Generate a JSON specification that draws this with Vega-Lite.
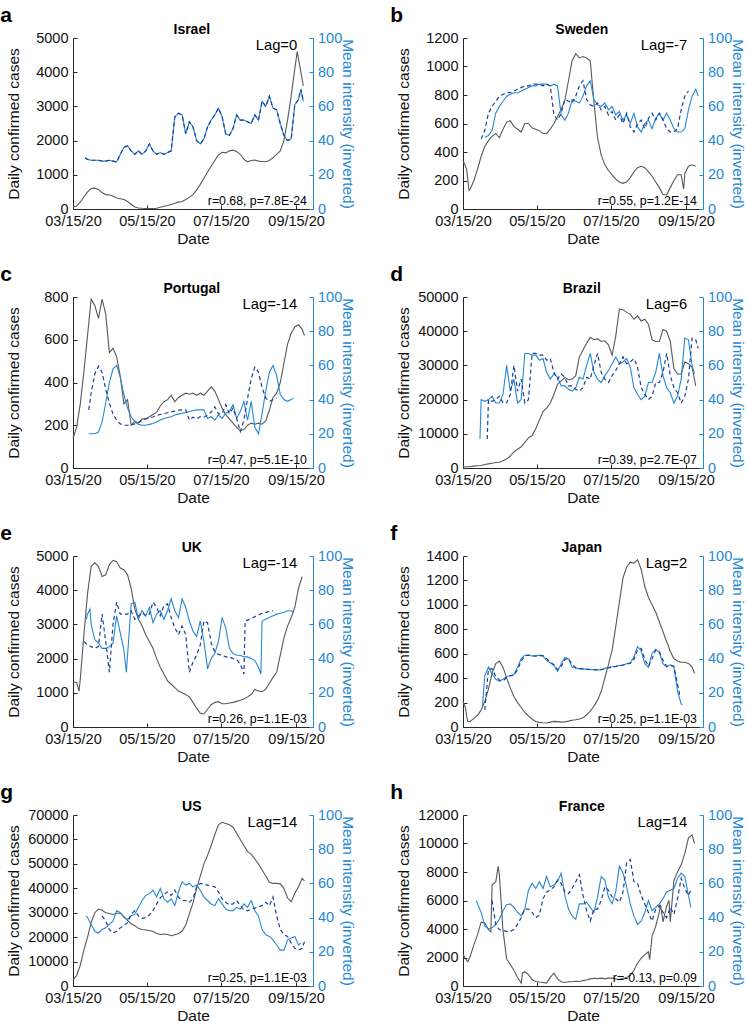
{
"$schema": "https://vega.github.io/schema/vega-lite/v6.json",
"padding": {"left": 0, "top": 3, "right": 0, "bottom": 0},
"data": {"values": [
{"p":"a","n":"Israel","g":"Lag=0","r":"r=0.68, p=7.8E-24"},
{"p":"b","n":"Sweden","g":"Lag=-7","r":"r=0.55, p=1.2E-14"},
{"p":"c","n":"Portugal","g":"Lag=-14","r":"r=0.47, p=5.1E-10"},
{"p":"d","n":"Brazil","g":"Lag=6","r":"r=0.39, p=2.7E-07"},
{"p":"e","n":"UK","g":"Lag=-14","r":"r=0.26, p=1.1E-03"},
{"p":"f","n":"Japan","g":"Lag=2","r":"r=0.25, p=1.1E-03"},
{"p":"g","n":"US","g":"Lag=14","r":"r=0.25, p=1.1E-03"},
{"p":"h","n":"France","g":"Lag=14","r":"r=-0.13, p=0.09"},
{"p":"a","d":"2020-03-15","c":60},
{"p":"a","d":"2020-03-18","c":90},
{"p":"a","d":"2020-03-21","c":200},
{"p":"a","d":"2020-03-24","c":350},
{"p":"a","d":"2020-03-25","s":30,"l":30},
{"p":"a","d":"2020-03-27","c":500,"s":29,"l":29},
{"p":"a","d":"2020-03-30","c":600,"s":28.5,"l":28.5},
{"p":"a","d":"2020-04-02","c":610,"s":28.5,"l":28.5},
{"p":"a","d":"2020-04-05","c":570,"s":28.5,"l":28.5},
{"p":"a","d":"2020-04-08","c":480,"s":28,"l":28},
{"p":"a","d":"2020-04-11","c":420,"s":28,"l":28},
{"p":"a","d":"2020-04-14","c":410,"s":28.5,"l":28.5},
{"p":"a","d":"2020-04-17","c":380,"s":28,"l":28},
{"p":"a","d":"2020-04-20","c":320,"s":27.5,"l":27.5},
{"p":"a","d":"2020-04-23","c":300,"s":32,"l":32},
{"p":"a","d":"2020-04-26","c":280,"s":36,"l":36},
{"p":"a","d":"2020-04-29","c":220,"s":37,"l":37},
{"p":"a","d":"2020-05-02","c":140,"s":34,"l":34},
{"p":"a","d":"2020-05-05","c":60,"s":32,"l":32},
{"p":"a","d":"2020-05-08","c":30,"s":34,"l":34},
{"p":"a","d":"2020-05-11","c":20,"s":32,"l":32},
{"p":"a","d":"2020-05-14","c":15,"s":34,"l":34},
{"p":"a","d":"2020-05-17","c":15,"s":38,"l":38},
{"p":"a","d":"2020-05-20","c":12,"s":34,"l":34},
{"p":"a","d":"2020-05-23","c":20,"s":32,"l":32},
{"p":"a","d":"2020-05-26","c":50,"s":33,"l":33},
{"p":"a","d":"2020-05-29","c":80,"s":32,"l":32},
{"p":"a","d":"2020-06-01","c":100,"s":33,"l":33},
{"p":"a","d":"2020-06-04","c":130,"s":34,"l":34},
{"p":"a","d":"2020-06-07","c":170,"s":54,"l":54},
{"p":"a","d":"2020-06-10","c":200,"s":56,"l":56},
{"p":"a","d":"2020-06-13","c":220,"s":55,"l":55},
{"p":"a","d":"2020-06-16","c":280,"s":44,"l":44},
{"p":"a","d":"2020-06-19","c":340,"s":51,"l":51},
{"p":"a","d":"2020-06-22","c":420,"s":48,"l":48},
{"p":"a","d":"2020-06-25","c":560,"s":40,"l":40},
{"p":"a","d":"2020-06-28","c":720,"s":38,"l":38},
{"p":"a","d":"2020-07-01","c":900,"s":41,"l":41},
{"p":"a","d":"2020-07-04","c":1080,"s":48,"l":48},
{"p":"a","d":"2020-07-07","c":1250,"s":52,"l":52},
{"p":"a","d":"2020-07-10","c":1420,"s":55,"l":55},
{"p":"a","d":"2020-07-13","c":1580,"s":59,"l":59},
{"p":"a","d":"2020-07-16","c":1660,"s":54,"l":54},
{"p":"a","d":"2020-07-19","c":1640,"s":44,"l":44},
{"p":"a","d":"2020-07-22","c":1700,"s":43,"l":43},
{"p":"a","d":"2020-07-25","c":1720,"s":47,"l":47},
{"p":"a","d":"2020-07-28","c":1680,"s":55,"l":55},
{"p":"a","d":"2020-07-31","c":1600,"s":52,"l":52},
{"p":"a","d":"2020-08-03","c":1450,"s":52,"l":52},
{"p":"a","d":"2020-08-06","c":1380,"s":51,"l":51},
{"p":"a","d":"2020-08-09","c":1420,"s":50,"l":50},
{"p":"a","d":"2020-08-12","c":1430,"s":55,"l":55},
{"p":"a","d":"2020-08-15","c":1400,"s":52,"l":52},
{"p":"a","d":"2020-08-18","c":1390,"s":63,"l":63},
{"p":"a","d":"2020-08-21","c":1380,"s":60,"l":60},
{"p":"a","d":"2020-08-24","c":1420,"s":66,"l":66},
{"p":"a","d":"2020-08-27","c":1500,"s":59,"l":59},
{"p":"a","d":"2020-08-30","c":1600,"s":58,"l":58},
{"p":"a","d":"2020-09-02","c":1700,"s":50,"l":50},
{"p":"a","d":"2020-09-05","c":2000,"s":43,"l":43},
{"p":"a","d":"2020-09-08","c":2600,"s":40,"l":40},
{"p":"a","d":"2020-09-11","c":3300,"s":41,"l":41},
{"p":"a","d":"2020-09-14","c":4100,"s":61,"l":61},
{"p":"a","d":"2020-09-16","c":4600},
{"p":"a","d":"2020-09-17","s":64,"l":64},
{"p":"a","d":"2020-09-19","c":4000,"s":70,"l":70},
{"p":"a","d":"2020-09-21","c":3600,"s":63,"l":63},
{"p":"b","d":"2020-03-15","c":340},
{"p":"b","d":"2020-03-18","c":280},
{"p":"b","d":"2020-03-20","c":130},
{"p":"b","d":"2020-03-21","c":140},
{"p":"b","d":"2020-03-24","c":200},
{"p":"b","d":"2020-03-27","c":280},
{"p":"b","d":"2020-03-30","c":370,"l":41},
{"p":"b","d":"2020-04-02","c":440,"s":42,"l":46},
{"p":"b","d":"2020-04-05","c":480,"s":43,"l":56},
{"p":"b","d":"2020-04-08","c":510,"s":46,"l":60},
{"p":"b","d":"2020-04-11","c":530,"s":56,"l":63},
{"p":"b","d":"2020-04-14","c":500,"s":60,"l":66},
{"p":"b","d":"2020-04-17","c":560,"s":63,"l":67},
{"p":"b","d":"2020-04-20","c":610,"s":66,"l":68},
{"p":"b","d":"2020-04-23","c":620,"s":67,"l":68},
{"p":"b","d":"2020-04-26","c":580,"s":68,"l":69},
{"p":"b","d":"2020-04-29","c":560,"s":68,"l":70},
{"p":"b","d":"2020-05-02","c":540,"s":69,"l":71},
{"p":"b","d":"2020-05-05","c":600,"s":70,"l":72},
{"p":"b","d":"2020-05-08","c":600,"s":71,"l":72},
{"p":"b","d":"2020-05-11","c":570,"s":72,"l":73},
{"p":"b","d":"2020-05-14","c":560,"s":72,"l":73},
{"p":"b","d":"2020-05-17","c":550,"s":73,"l":73},
{"p":"b","d":"2020-05-20","c":530,"s":73,"l":72},
{"p":"b","d":"2020-05-23","c":530,"s":73,"l":73},
{"p":"b","d":"2020-05-26","c":560,"s":72,"l":72},
{"p":"b","d":"2020-05-29","c":600,"s":73,"l":55},
{"p":"b","d":"2020-06-01","c":650,"s":72,"l":52},
{"p":"b","d":"2020-06-04","c":700,"s":55,"l":56},
{"p":"b","d":"2020-06-07","c":760,"s":52,"l":64},
{"p":"b","d":"2020-06-10","c":900,"s":56,"l":63},
{"p":"b","d":"2020-06-13","c":1040,"s":64,"l":62},
{"p":"b","d":"2020-06-16","c":1090,"s":63,"l":66},
{"p":"b","d":"2020-06-19","c":1060,"s":62,"l":72},
{"p":"b","d":"2020-06-22","c":1070,"s":66,"l":75},
{"p":"b","d":"2020-06-25","c":1060,"s":72,"l":64},
{"p":"b","d":"2020-06-28","c":1040,"s":75,"l":61},
{"p":"b","d":"2020-07-01","c":750,"s":64,"l":60},
{"p":"b","d":"2020-07-04","c":500,"s":61,"l":62},
{"p":"b","d":"2020-07-07","c":380,"s":60,"l":58},
{"p":"b","d":"2020-07-10","c":310,"s":62,"l":60},
{"p":"b","d":"2020-07-13","c":270,"s":58,"l":55},
{"p":"b","d":"2020-07-16","c":240,"s":60,"l":57},
{"p":"b","d":"2020-07-19","c":210,"s":55,"l":52},
{"p":"b","d":"2020-07-22","c":190,"s":57,"l":55},
{"p":"b","d":"2020-07-25","c":180,"s":52,"l":50},
{"p":"b","d":"2020-07-28","c":190,"s":55,"l":56},
{"p":"b","d":"2020-07-31","c":220,"s":50,"l":48},
{"p":"b","d":"2020-08-03","c":260,"s":56,"l":45},
{"p":"b","d":"2020-08-06","c":290,"s":48,"l":50},
{"p":"b","d":"2020-08-09","c":300,"s":45,"l":52},
{"p":"b","d":"2020-08-12","c":290,"s":50,"l":47},
{"p":"b","d":"2020-08-15","c":260,"s":52,"l":53},
{"p":"b","d":"2020-08-18","c":230,"s":47,"l":56},
{"p":"b","d":"2020-08-21","c":190,"s":53,"l":52},
{"p":"b","d":"2020-08-24","c":150,"s":56,"l":56},
{"p":"b","d":"2020-08-27","c":100,"s":52,"l":52},
{"p":"b","d":"2020-08-30","c":100,"s":56,"l":47},
{"p":"b","d":"2020-09-02","c":150,"s":52,"l":45},
{"p":"b","d":"2020-09-05","c":200,"s":47,"l":45},
{"p":"b","d":"2020-09-08","c":240,"s":45,"l":47},
{"p":"b","d":"2020-09-11","c":240,"s":45,"l":58},
{"p":"b","d":"2020-09-13","c":140},
{"p":"b","d":"2020-09-14","c":250,"s":47,"l":66},
{"p":"b","d":"2020-09-17","c":300,"s":58,"l":69},
{"p":"b","d":"2020-09-20","c":310,"s":66},
{"p":"b","d":"2020-09-23","c":300,"s":70},
{"p":"b","d":"2020-09-25","s":66},
{"p":"c","d":"2020-03-15","c":140},
{"p":"c","d":"2020-03-18","c":190},
{"p":"c","d":"2020-03-21","c":300},
{"p":"c","d":"2020-03-24","c":450},
{"p":"c","d":"2020-03-27","c":620},
{"p":"c","d":"2020-03-28","s":20,"l":34},
{"p":"c","d":"2020-03-30","c":790,"s":20,"l":44},
{"p":"c","d":"2020-04-02","c":760,"s":20,"l":55},
{"p":"c","d":"2020-04-05","c":700,"s":21,"l":59.5},
{"p":"c","d":"2020-04-08","c":790,"s":27,"l":56},
{"p":"c","d":"2020-04-11","c":720,"s":38,"l":46},
{"p":"c","d":"2020-04-14","c":540,"s":50,"l":38},
{"p":"c","d":"2020-04-17","c":560,"s":58,"l":31.5},
{"p":"c","d":"2020-04-20","c":520,"s":60,"l":28},
{"p":"c","d":"2020-04-23","c":430,"s":53,"l":25.8},
{"p":"c","d":"2020-04-26","c":300,"s":43,"l":25},
{"p":"c","d":"2020-04-29","c":320,"s":35,"l":25},
{"p":"c","d":"2020-05-02","c":200,"s":30,"l":25.3},
{"p":"c","d":"2020-05-05","c":220,"s":27,"l":25.8},
{"p":"c","d":"2020-05-08","c":210,"s":25.5,"l":26.7},
{"p":"c","d":"2020-05-11","c":230,"s":25,"l":27.7},
{"p":"c","d":"2020-05-14","c":230,"s":25,"l":28.7},
{"p":"c","d":"2020-05-17","c":240,"s":25.5,"l":29.3},
{"p":"c","d":"2020-05-20","c":250,"s":26,"l":29.8},
{"p":"c","d":"2020-05-23","c":260,"s":27,"l":30.7},
{"p":"c","d":"2020-05-26","c":290,"s":28,"l":31.3},
{"p":"c","d":"2020-05-29","c":310,"s":29,"l":31.8},
{"p":"c","d":"2020-06-01","c":320,"s":29.5,"l":32.3},
{"p":"c","d":"2020-06-04","c":340,"s":30,"l":32.8},
{"p":"c","d":"2020-06-07","c":310,"s":31,"l":33.3},
{"p":"c","d":"2020-06-10","c":330,"s":31.5,"l":33.8},
{"p":"c","d":"2020-06-13","c":340,"s":32,"l":34},
{"p":"c","d":"2020-06-16","c":350,"s":32.5,"l":34},
{"p":"c","d":"2020-06-19","c":345,"s":33,"l":28},
{"p":"c","d":"2020-06-22","c":350,"s":33.5,"l":29.7},
{"p":"c","d":"2020-06-25","c":340,"s":34,"l":28.7},
{"p":"c","d":"2020-06-28","c":350,"s":34,"l":30},
{"p":"c","d":"2020-07-01","c":340,"s":34,"l":29.7},
{"p":"c","d":"2020-07-04","c":360,"s":29,"l":31},
{"p":"c","d":"2020-07-07","c":380,"s":30,"l":32.7},
{"p":"c","d":"2020-07-10","c":360,"s":28,"l":35.7},
{"p":"c","d":"2020-07-13","c":320,"s":31,"l":31.7},
{"p":"c","d":"2020-07-16","c":280,"s":29,"l":31.7},
{"p":"c","d":"2020-07-19","c":250,"s":32,"l":37},
{"p":"c","d":"2020-07-22","c":230,"s":33,"l":31.7},
{"p":"c","d":"2020-07-25","c":210,"s":37,"l":35},
{"p":"c","d":"2020-07-28","c":190,"s":29,"l":29},
{"p":"c","d":"2020-07-31","c":175,"s":33,"l":21.3},
{"p":"c","d":"2020-08-03","c":180,"s":39,"l":28},
{"p":"c","d":"2020-08-06","c":200,"s":28,"l":40.7},
{"p":"c","d":"2020-08-09","c":210,"s":39,"l":52},
{"p":"c","d":"2020-08-12","c":205,"s":24,"l":59},
{"p":"c","d":"2020-08-15","c":210,"s":20,"l":56},
{"p":"c","d":"2020-08-18","c":205,"s":32,"l":47},
{"p":"c","d":"2020-08-21","c":220,"s":45,"l":41},
{"p":"c","d":"2020-08-24","c":270,"s":56,"l":39},
{"p":"c","d":"2020-08-27","c":330,"s":60,"l":40},
{"p":"c","d":"2020-08-30","c":350,"s":54,"l":41},
{"p":"c","d":"2020-09-02","c":400,"s":43},
{"p":"c","d":"2020-09-05","c":490,"s":40},
{"p":"c","d":"2020-09-08","c":580,"s":39},
{"p":"c","d":"2020-09-11","c":630,"s":40},
{"p":"c","d":"2020-09-13","s":41},
{"p":"c","d":"2020-09-14","c":660},
{"p":"c","d":"2020-09-17","c":670},
{"p":"c","d":"2020-09-20","c":650},
{"p":"c","d":"2020-09-22","c":620},
{"p":"d","d":"2020-03-15","c":300},
{"p":"d","d":"2020-03-18","c":350},
{"p":"d","d":"2020-03-21","c":400},
{"p":"d","d":"2020-03-24","c":550},
{"p":"d","d":"2020-03-27","c":650},
{"p":"d","d":"2020-03-29","s":17},
{"p":"d","d":"2020-03-30","c":750,"s":40},
{"p":"d","d":"2020-04-02","c":1000,"s":39},
{"p":"d","d":"2020-04-04","l":17},
{"p":"d","d":"2020-04-05","c":1200,"s":40,"l":40},
{"p":"d","d":"2020-04-08","c":1400,"s":42,"l":39},
{"p":"d","d":"2020-04-11","c":1600,"s":38,"l":40},
{"p":"d","d":"2020-04-14","c":1700,"s":38,"l":42},
{"p":"d","d":"2020-04-17","c":2100,"s":43,"l":38},
{"p":"d","d":"2020-04-20","c":2600,"s":60,"l":38},
{"p":"d","d":"2020-04-23","c":3500,"s":45,"l":43},
{"p":"d","d":"2020-04-26","c":4700,"s":52,"l":60},
{"p":"d","d":"2020-04-29","c":5500,"s":38,"l":45},
{"p":"d","d":"2020-05-02","c":6200,"s":40,"l":52},
{"p":"d","d":"2020-05-05","c":7500,"s":67,"l":38},
{"p":"d","d":"2020-05-08","c":8800,"s":67,"l":40},
{"p":"d","d":"2020-05-11","c":9500,"s":66,"l":67},
{"p":"d","d":"2020-05-14","c":11500,"s":66,"l":67},
{"p":"d","d":"2020-05-17","c":14000,"s":63,"l":66},
{"p":"d","d":"2020-05-20","c":16500,"s":64,"l":66},
{"p":"d","d":"2020-05-23","c":17500,"s":56,"l":63},
{"p":"d","d":"2020-05-26","c":19000,"s":52,"l":64},
{"p":"d","d":"2020-05-29","c":21500,"s":55,"l":56},
{"p":"d","d":"2020-06-01","c":24500,"s":53,"l":52},
{"p":"d","d":"2020-06-04","c":25500,"s":48,"l":55},
{"p":"d","d":"2020-06-07","c":26500,"s":48,"l":53},
{"p":"d","d":"2020-06-10","c":25800,"s":46,"l":48},
{"p":"d","d":"2020-06-13","c":26000,"s":45,"l":48},
{"p":"d","d":"2020-06-16","c":27000,"s":47,"l":46},
{"p":"d","d":"2020-06-19","c":32500,"s":53,"l":45},
{"p":"d","d":"2020-06-22","c":34500,"s":52,"l":47},
{"p":"d","d":"2020-06-25","c":36500,"s":60,"l":53},
{"p":"d","d":"2020-06-28","c":38200,"s":67,"l":52},
{"p":"d","d":"2020-07-01","c":37500,"s":56,"l":60},
{"p":"d","d":"2020-07-04","c":37800,"s":52,"l":67},
{"p":"d","d":"2020-07-07","c":37000,"s":50,"l":56},
{"p":"d","d":"2020-07-10","c":37200,"s":54,"l":52},
{"p":"d","d":"2020-07-13","c":36000,"s":57,"l":50},
{"p":"d","d":"2020-07-16","c":33000,"s":61,"l":54},
{"p":"d","d":"2020-07-19","c":38500,"s":65,"l":57},
{"p":"d","d":"2020-07-22","c":46500,"s":61,"l":61},
{"p":"d","d":"2020-07-25","c":46300,"s":62,"l":65},
{"p":"d","d":"2020-07-28","c":45500,"s":64,"l":61},
{"p":"d","d":"2020-07-31","c":45000,"s":59,"l":62},
{"p":"d","d":"2020-08-03","c":43500,"s":47,"l":64},
{"p":"d","d":"2020-08-06","c":44500,"s":43,"l":59},
{"p":"d","d":"2020-08-09","c":43000,"s":40,"l":47},
{"p":"d","d":"2020-08-12","c":43500,"s":42,"l":43},
{"p":"d","d":"2020-08-15","c":42000,"s":50,"l":40},
{"p":"d","d":"2020-08-18","c":37500,"s":50,"l":42},
{"p":"d","d":"2020-08-21","c":37000,"s":56,"l":50},
{"p":"d","d":"2020-08-24","c":37000,"s":67,"l":50},
{"p":"d","d":"2020-08-27","c":40500,"s":54,"l":56},
{"p":"d","d":"2020-08-30","c":40000,"s":47,"l":67},
{"p":"d","d":"2020-09-02","c":37000,"s":44,"l":54},
{"p":"d","d":"2020-09-05","c":29000,"s":38,"l":47},
{"p":"d","d":"2020-09-08","c":27500,"s":42,"l":44},
{"p":"d","d":"2020-09-11","c":27500,"s":52,"l":38},
{"p":"d","d":"2020-09-14","c":31000,"s":76,"l":42},
{"p":"d","d":"2020-09-17","c":30500,"s":75,"l":52},
{"p":"d","d":"2020-09-20","c":29500,"s":60,"l":76},
{"p":"d","d":"2020-09-22","s":55},
{"p":"d","d":"2020-09-23","c":24000,"l":75},
{"p":"d","d":"2020-09-25","l":70},
{"p":"e","d":"2020-03-15","c":1320},
{"p":"e","d":"2020-03-18","c":1300},
{"p":"e","d":"2020-03-20","c":1050},
{"p":"e","d":"2020-03-21","c":1400},
{"p":"e","d":"2020-03-24","c":2700,"l":50},
{"p":"e","d":"2020-03-26","s":63},
{"p":"e","d":"2020-03-27","c":3900,"s":66,"l":48},
{"p":"e","d":"2020-03-29","s":69},
{"p":"e","d":"2020-03-30","c":4700,"s":60,"l":47},
{"p":"e","d":"2020-04-02","c":4800,"s":51,"l":46},
{"p":"e","d":"2020-04-05","c":4700,"s":49,"l":47},
{"p":"e","d":"2020-04-08","c":4400,"s":46,"l":66},
{"p":"e","d":"2020-04-11","c":4450,"s":46,"l":50},
{"p":"e","d":"2020-04-14","c":4750,"s":47,"l":32},
{"p":"e","d":"2020-04-17","c":4870,"s":49,"l":60},
{"p":"e","d":"2020-04-20","c":4830,"s":65,"l":73},
{"p":"e","d":"2020-04-23","c":4650,"s":55,"l":66},
{"p":"e","d":"2020-04-26","c":4600,"s":45,"l":66},
{"p":"e","d":"2020-04-28","s":32},
{"p":"e","d":"2020-04-29","c":4450,"s":42,"l":66},
{"p":"e","d":"2020-05-02","c":4050,"s":72,"l":68},
{"p":"e","d":"2020-05-05","c":3450,"s":73,"l":63},
{"p":"e","d":"2020-05-08","c":3150,"s":63,"l":65},
{"p":"e","d":"2020-05-11","c":2950,"s":68,"l":67},
{"p":"e","d":"2020-05-14","c":2700,"s":65,"l":65},
{"p":"e","d":"2020-05-17","c":2500,"s":70,"l":66},
{"p":"e","d":"2020-05-20","c":2300,"s":61,"l":73},
{"p":"e","d":"2020-05-23","c":2000,"s":66,"l":70},
{"p":"e","d":"2020-05-26","c":1750,"s":68,"l":65},
{"p":"e","d":"2020-05-29","c":1550,"s":63,"l":71},
{"p":"e","d":"2020-06-01","c":1350,"s":68,"l":72},
{"p":"e","d":"2020-06-04","c":1250,"s":75,"l":64},
{"p":"e","d":"2020-06-07","c":1150,"s":68,"l":58},
{"p":"e","d":"2020-06-10","c":1050,"s":64,"l":54},
{"p":"e","d":"2020-06-13","c":1000,"s":75,"l":59},
{"p":"e","d":"2020-06-16","c":950,"s":70,"l":54},
{"p":"e","d":"2020-06-19","c":880,"s":62,"l":32},
{"p":"e","d":"2020-06-22","c":720,"s":56,"l":38},
{"p":"e","d":"2020-06-25","c":550,"s":53,"l":42},
{"p":"e","d":"2020-06-28","c":400,"s":62,"l":48},
{"p":"e","d":"2020-07-01","c":380,"s":50,"l":62},
{"p":"e","d":"2020-07-04","c":520,"s":34,"l":61},
{"p":"e","d":"2020-07-07","c":650,"s":40,"l":49},
{"p":"e","d":"2020-07-10","c":720,"s":43,"l":44},
{"p":"e","d":"2020-07-13","c":740,"s":50,"l":42.5},
{"p":"e","d":"2020-07-16","c":680,"s":64,"l":42},
{"p":"e","d":"2020-07-19","c":680,"s":58,"l":41},
{"p":"e","d":"2020-07-22","c":700,"s":46,"l":41},
{"p":"e","d":"2020-07-25","c":720,"s":43,"l":40},
{"p":"e","d":"2020-07-28","c":750,"s":42,"l":39.5},
{"p":"e","d":"2020-07-31","c":780,"s":42,"l":37},
{"p":"e","d":"2020-08-03","c":820,"s":41,"l":31},
{"p":"e","d":"2020-08-04","l":62},
{"p":"e","d":"2020-08-06","c":880,"s":41,"l":62.5},
{"p":"e","d":"2020-08-09","c":950,"s":40,"l":63.5},
{"p":"e","d":"2020-08-12","c":1100,"s":39,"l":64.5},
{"p":"e","d":"2020-08-15","c":1050,"s":35,"l":65.5},
{"p":"e","d":"2020-08-17","s":31},
{"p":"e","d":"2020-08-18","c":1030,"s":62,"l":66.5},
{"p":"e","d":"2020-08-21","c":1100,"s":63,"l":67},
{"p":"e","d":"2020-08-24","c":1280,"s":64,"l":67.5},
{"p":"e","d":"2020-08-27","c":1450,"s":65,"l":68},
{"p":"e","d":"2020-08-30","c":1600,"s":66},
{"p":"e","d":"2020-09-02","c":2100,"s":66.5},
{"p":"e","d":"2020-09-05","c":2600,"s":67},
{"p":"e","d":"2020-09-08","c":2950,"s":68},
{"p":"e","d":"2020-09-11","c":3200,"s":68},
{"p":"e","d":"2020-09-13","s":67},
{"p":"e","d":"2020-09-14","c":3500},
{"p":"e","d":"2020-09-17","c":4050},
{"p":"e","d":"2020-09-20","c":4400},
{"p":"f","d":"2020-03-15","c":210},
{"p":"f","d":"2020-03-17","c":160},
{"p":"f","d":"2020-03-18","c":90},
{"p":"f","d":"2020-03-19","c":45},
{"p":"f","d":"2020-03-21","c":45},
{"p":"f","d":"2020-03-24","c":70},
{"p":"f","d":"2020-03-27","c":95},
{"p":"f","d":"2020-03-30","c":140},
{"p":"f","d":"2020-03-31","s":12},
{"p":"f","d":"2020-04-02","c":210,"s":30,"l":10},
{"p":"f","d":"2020-04-05","c":310,"s":35,"l":34},
{"p":"f","d":"2020-04-08","c":440,"s":31,"l":34},
{"p":"f","d":"2020-04-11","c":520,"s":28,"l":29.5},
{"p":"f","d":"2020-04-14","c":540,"s":26.7,"l":27.5},
{"p":"f","d":"2020-04-17","c":490,"s":28,"l":27},
{"p":"f","d":"2020-04-20","c":400,"s":29.5,"l":29},
{"p":"f","d":"2020-04-23","c":320,"s":30,"l":30},
{"p":"f","d":"2020-04-26","c":250,"s":30.5,"l":30.3},
{"p":"f","d":"2020-04-29","c":200,"s":35,"l":33.5},
{"p":"f","d":"2020-05-02","c":160,"s":40,"l":38.5},
{"p":"f","d":"2020-05-05","c":120,"s":42,"l":41.5},
{"p":"f","d":"2020-05-08","c":90,"s":42,"l":42},
{"p":"f","d":"2020-05-11","c":65,"s":41.5,"l":41.7},
{"p":"f","d":"2020-05-14","c":45,"s":41.5,"l":41.5},
{"p":"f","d":"2020-05-17","c":38,"s":42,"l":41.8},
{"p":"f","d":"2020-05-20","c":35,"s":41.5,"l":41.7},
{"p":"f","d":"2020-05-23","c":33,"s":39,"l":40},
{"p":"f","d":"2020-05-26","c":40,"s":37.5,"l":38},
{"p":"f","d":"2020-05-29","c":46,"s":36,"l":36.5},
{"p":"f","d":"2020-06-01","c":44,"s":32.5,"l":33.5},
{"p":"f","d":"2020-06-04","c":40,"s":37,"l":35.5},
{"p":"f","d":"2020-06-07","c":42,"s":40.5,"l":39.5},
{"p":"f","d":"2020-06-10","c":48,"s":40,"l":40.2},
{"p":"f","d":"2020-06-13","c":55,"s":35,"l":36.5},
{"p":"f","d":"2020-06-16","c":60,"s":34.5,"l":34.7},
{"p":"f","d":"2020-06-19","c":66,"s":34,"l":34.2},
{"p":"f","d":"2020-06-22","c":75,"s":34,"l":34},
{"p":"f","d":"2020-06-25","c":100,"s":33.7,"l":33.8},
{"p":"f","d":"2020-06-28","c":130,"s":33.6,"l":33.6},
{"p":"f","d":"2020-07-01","c":170,"s":33.5,"l":33.5},
{"p":"f","d":"2020-07-04","c":220,"s":33.4,"l":33.4},
{"p":"f","d":"2020-07-07","c":290,"s":33.5,"l":33.5},
{"p":"f","d":"2020-07-10","c":400,"s":34.3,"l":34},
{"p":"f","d":"2020-07-13","c":510,"s":34.8,"l":34.6},
{"p":"f","d":"2020-07-16","c":630,"s":35.2,"l":35},
{"p":"f","d":"2020-07-19","c":820,"s":35.5,"l":35.4},
{"p":"f","d":"2020-07-22","c":1020,"s":36,"l":35.8},
{"p":"f","d":"2020-07-25","c":1220,"s":36.3,"l":36.2},
{"p":"f","d":"2020-07-28","c":1310,"s":37,"l":36.7},
{"p":"f","d":"2020-07-31","c":1350,"s":37.5,"l":37.3},
{"p":"f","d":"2020-08-03","c":1340,"s":41,"l":39.5},
{"p":"f","d":"2020-08-06","c":1370,"s":47,"l":45},
{"p":"f","d":"2020-08-09","c":1290,"s":44.5,"l":46},
{"p":"f","d":"2020-08-12","c":1150,"s":37,"l":39.5},
{"p":"f","d":"2020-08-15","c":1060,"s":35,"l":35.5},
{"p":"f","d":"2020-08-18","c":1000,"s":43,"l":40},
{"p":"f","d":"2020-08-21","c":940,"s":45.5,"l":45},
{"p":"f","d":"2020-08-24","c":860,"s":43.5,"l":44},
{"p":"f","d":"2020-08-27","c":780,"s":37,"l":39},
{"p":"f","d":"2020-08-30","c":700,"s":35,"l":35.5},
{"p":"f","d":"2020-09-02","c":620,"s":36.5,"l":36},
{"p":"f","d":"2020-09-05","c":560,"s":35,"l":35.5},
{"p":"f","d":"2020-09-08","c":540,"s":21,"l":25},
{"p":"f","d":"2020-09-10","l":18},
{"p":"f","d":"2020-09-11","c":530,"s":13.5},
{"p":"f","d":"2020-09-12","s":13},
{"p":"f","d":"2020-09-14","c":530},
{"p":"f","d":"2020-09-17","c":520},
{"p":"f","d":"2020-09-20","c":490},
{"p":"f","d":"2020-09-22","c":440},
{"p":"g","d":"2020-03-15","c":2500},
{"p":"g","d":"2020-03-18","c":4300},
{"p":"g","d":"2020-03-21","c":8500},
{"p":"g","d":"2020-03-24","c":14800},
{"p":"g","d":"2020-03-26","s":41},
{"p":"g","d":"2020-03-27","c":20000,"s":40},
{"p":"g","d":"2020-03-30","c":26000,"s":36},
{"p":"g","d":"2020-04-02","c":30000,"s":32},
{"p":"g","d":"2020-04-05","c":31500,"s":31},
{"p":"g","d":"2020-04-08","c":31000,"s":33,"l":41},
{"p":"g","d":"2020-04-11","c":30000,"s":34,"l":38},
{"p":"g","d":"2020-04-14","c":29700,"s":36,"l":33},
{"p":"g","d":"2020-04-17","c":29300,"s":38,"l":31},
{"p":"g","d":"2020-04-20","c":29800,"s":44,"l":32},
{"p":"g","d":"2020-04-23","c":29800,"s":43,"l":34},
{"p":"g","d":"2020-04-26","c":28400,"s":40,"l":35.5},
{"p":"g","d":"2020-04-29","c":26800,"s":39,"l":37},
{"p":"g","d":"2020-05-02","c":25500,"s":41,"l":42},
{"p":"g","d":"2020-05-05","c":24700,"s":42,"l":44},
{"p":"g","d":"2020-05-08","c":23600,"s":46,"l":41},
{"p":"g","d":"2020-05-11","c":23100,"s":50,"l":39.5},
{"p":"g","d":"2020-05-14","c":22900,"s":53,"l":40},
{"p":"g","d":"2020-05-17","c":22700,"s":54,"l":41.5},
{"p":"g","d":"2020-05-20","c":22300,"s":56,"l":44},
{"p":"g","d":"2020-05-23","c":21500,"s":52,"l":48},
{"p":"g","d":"2020-05-26","c":21100,"s":57,"l":51.5},
{"p":"g","d":"2020-05-29","c":21300,"s":51,"l":53.5},
{"p":"g","d":"2020-06-01","c":21100,"s":49,"l":55},
{"p":"g","d":"2020-06-04","c":20600,"s":51,"l":53},
{"p":"g","d":"2020-06-07","c":21000,"s":47,"l":56},
{"p":"g","d":"2020-06-10","c":21400,"s":55,"l":52},
{"p":"g","d":"2020-06-13","c":22500,"s":61,"l":50},
{"p":"g","d":"2020-06-16","c":25000,"s":59,"l":50},
{"p":"g","d":"2020-06-19","c":29500,"s":60,"l":49},
{"p":"g","d":"2020-06-22","c":34000,"s":58,"l":51},
{"p":"g","d":"2020-06-25","c":40000,"s":59,"l":58},
{"p":"g","d":"2020-06-28","c":45000,"s":56,"l":60},
{"p":"g","d":"2020-07-01","c":50000,"s":52,"l":59.5},
{"p":"g","d":"2020-07-04","c":53500,"s":50,"l":59},
{"p":"g","d":"2020-07-07","c":57500,"s":48,"l":58.5},
{"p":"g","d":"2020-07-10","c":62000,"s":47,"l":58},
{"p":"g","d":"2020-07-13","c":66000,"s":51,"l":55},
{"p":"g","d":"2020-07-16","c":67000,"s":48,"l":51},
{"p":"g","d":"2020-07-19","c":66500,"s":45,"l":49},
{"p":"g","d":"2020-07-22","c":66000,"s":44,"l":47.5},
{"p":"g","d":"2020-07-25","c":65000,"s":44,"l":48},
{"p":"g","d":"2020-07-28","c":62500,"s":46,"l":50},
{"p":"g","d":"2020-07-31","c":60000,"s":45,"l":47},
{"p":"g","d":"2020-08-03","c":57500,"s":48,"l":44.5},
{"p":"g","d":"2020-08-06","c":55000,"s":46,"l":44},
{"p":"g","d":"2020-08-09","c":54000,"s":50,"l":45},
{"p":"g","d":"2020-08-12","c":52000,"s":44,"l":45.5},
{"p":"g","d":"2020-08-15","c":50000,"s":41,"l":46.5},
{"p":"g","d":"2020-08-18","c":47500,"s":33,"l":47},
{"p":"g","d":"2020-08-21","c":45000,"s":30,"l":49},
{"p":"g","d":"2020-08-24","c":42500,"s":29,"l":47},
{"p":"g","d":"2020-08-27","c":42000,"s":27,"l":52},
{"p":"g","d":"2020-08-30","c":42000,"s":24,"l":41},
{"p":"g","d":"2020-09-02","c":41800,"s":21,"l":33},
{"p":"g","d":"2020-09-05","c":40000,"s":21,"l":30},
{"p":"g","d":"2020-09-08","c":36000,"s":27,"l":29},
{"p":"g","d":"2020-09-11","c":34500,"s":28,"l":25},
{"p":"g","d":"2020-09-14","c":38000,"s":29,"l":22},
{"p":"g","d":"2020-09-17","c":40500,"s":24,"l":21},
{"p":"g","d":"2020-09-19","s":25},
{"p":"g","d":"2020-09-20","c":44000,"l":22},
{"p":"g","d":"2020-09-22","c":43000,"l":26},
{"p":"h","d":"2020-03-15","c":2200},
{"p":"h","d":"2020-03-18","c":1800},
{"p":"h","d":"2020-03-19","c":1700},
{"p":"h","d":"2020-03-21","c":2100},
{"p":"h","d":"2020-03-24","c":2900},
{"p":"h","d":"2020-03-26","s":50},
{"p":"h","d":"2020-03-27","c":3600,"s":48},
{"p":"h","d":"2020-03-30","c":4500,"s":43},
{"p":"h","d":"2020-04-02","c":4400,"s":35},
{"p":"h","d":"2020-04-05","c":3950,"s":33.5},
{"p":"h","d":"2020-04-07","c":3800},
{"p":"h","d":"2020-04-08","c":7100,"s":34,"l":50},
{"p":"h","d":"2020-04-11","c":7300,"s":36,"l":36},
{"p":"h","d":"2020-04-13","c":8400},
{"p":"h","d":"2020-04-14","c":7800,"s":39,"l":33},
{"p":"h","d":"2020-04-17","c":3900,"s":44,"l":32.5},
{"p":"h","d":"2020-04-20","c":1900,"s":47.5,"l":32},
{"p":"h","d":"2020-04-23","c":1500,"s":48,"l":32},
{"p":"h","d":"2020-04-26","c":1100,"s":46,"l":33},
{"p":"h","d":"2020-04-29","c":600,"s":43,"l":36},
{"p":"h","d":"2020-05-02","c":200,"s":41,"l":40},
{"p":"h","d":"2020-05-03","c":900},
{"p":"h","d":"2020-05-05","c":1000,"s":45,"l":45},
{"p":"h","d":"2020-05-08","c":800,"s":56,"l":45},
{"p":"h","d":"2020-05-11","c":450,"s":60,"l":43},
{"p":"h","d":"2020-05-14","c":320,"s":57,"l":40},
{"p":"h","d":"2020-05-17","c":280,"s":61,"l":41.5},
{"p":"h","d":"2020-05-20","c":250,"s":57,"l":51},
{"p":"h","d":"2020-05-23","c":200,"s":64,"l":55},
{"p":"h","d":"2020-05-26","c":600,"s":58,"l":56},
{"p":"h","d":"2020-05-29","c":900,"s":59,"l":58},
{"p":"h","d":"2020-06-01","c":500,"s":61,"l":62},
{"p":"h","d":"2020-06-04","c":300,"s":66,"l":60},
{"p":"h","d":"2020-06-07","c":250,"s":53,"l":55},
{"p":"h","d":"2020-06-10","c":300,"s":45,"l":54},
{"p":"h","d":"2020-06-13","c":300,"s":41,"l":57},
{"p":"h","d":"2020-06-16","c":330,"s":39,"l":61},
{"p":"h","d":"2020-06-19","c":320,"s":48,"l":65},
{"p":"h","d":"2020-06-22","c":380,"s":48,"l":53},
{"p":"h","d":"2020-06-25","c":420,"s":49,"l":44},
{"p":"h","d":"2020-06-28","c":500,"s":46,"l":38},
{"p":"h","d":"2020-07-01","c":540,"s":43,"l":45},
{"p":"h","d":"2020-07-04","c":520,"s":52,"l":45},
{"p":"h","d":"2020-07-07","c":550,"s":64,"l":50},
{"p":"h","d":"2020-07-10","c":500,"s":62,"l":58},
{"p":"h","d":"2020-07-13","c":550,"s":52,"l":56},
{"p":"h","d":"2020-07-16","c":560,"s":48,"l":52},
{"p":"h","d":"2020-07-19","c":500,"s":55,"l":51},
{"p":"h","d":"2020-07-22","c":450,"s":70,"l":49},
{"p":"h","d":"2020-07-25","c":550,"s":66,"l":55},
{"p":"h","d":"2020-07-28","c":600,"s":58,"l":72},
{"p":"h","d":"2020-07-31","c":750,"s":48,"l":74},
{"p":"h","d":"2020-08-03","c":1100,"s":41,"l":61},
{"p":"h","d":"2020-08-06","c":1600,"s":36,"l":60},
{"p":"h","d":"2020-08-09","c":1950,"s":38,"l":53},
{"p":"h","d":"2020-08-12","c":2200,"s":43,"l":48},
{"p":"h","d":"2020-08-15","c":2400,"s":50,"l":43},
{"p":"h","d":"2020-08-16","c":1850},
{"p":"h","d":"2020-08-18","c":3500,"s":44,"l":38},
{"p":"h","d":"2020-08-21","c":4200,"s":46,"l":45},
{"p":"h","d":"2020-08-24","c":5200,"s":48,"l":47},
{"p":"h","d":"2020-08-25","c":5700},
{"p":"h","d":"2020-08-27","c":4500,"s":51,"l":43},
{"p":"h","d":"2020-08-30","c":5600,"s":55,"l":40},
{"p":"h","d":"2020-09-01","c":6000},
{"p":"h","d":"2020-09-02","c":4500,"s":56,"l":46},
{"p":"h","d":"2020-09-05","c":7400,"s":57,"l":42},
{"p":"h","d":"2020-09-08","c":8000,"s":63,"l":51},
{"p":"h","d":"2020-09-11","c":8500,"s":66,"l":63},
{"p":"h","d":"2020-09-14","c":9300,"s":64,"l":57},
{"p":"h","d":"2020-09-17","c":10400,"s":53,"l":53},
{"p":"h","d":"2020-09-19","s":46,"l":56},
{"p":"h","d":"2020-09-20","c":10600},
{"p":"h","d":"2020-09-22","c":10000}
]},
"facet": {"field": "p", "type": "nominal", "title": null,
  "header": {"title": null, "labelExpr": "''", "labelFontSize": 1, "labelPadding": 0, "labelLimit": 1}},
"columns": 2,
"spacing": {"row": 88, "column": 150},
"bounds": "flush",
"resolve": {"scale": {"y": "independent"}, "axis": {"x": "independent", "y": "independent"}},
"spec": {
  "width": 240,
  "height": 171,
  "layer": [
    {
      "mark": {"type": "line", "color": "#595959", "strokeWidth": 1.1, "invalid": "filter"},
      "encoding": {
        "x": {"field": "d", "type": "temporal",
              "scale": {"domain": [{"year": 2020, "month": 3, "date": 15}, {"year": 2020, "month": 9, "date": 29}]},
              "axis": {"title": "Date", "format": "%m/%d/%y", "labelFlush": false, "labelOverlap": false,
                       "values": [{"year": 2020, "month": 3, "date": 15}, {"year": 2020, "month": 5, "date": 15}, {"year": 2020, "month": 7, "date": 15}, {"year": 2020, "month": 9, "date": 15}]}},
        "y": {"field": "c", "type": "quantitative", "scale": {"zero": true, "nice": 5},
              "axis": {"title": "Daily confirmed cases", "orient": "left", "format": "d", "tickCount": 5}}
      }
    },
    {
      "layer": [
        {
          "mark": {"type": "line", "color": "#2588d3", "strokeWidth": 1.1, "invalid": "filter"},
          "encoding": {
            "x": {"field": "d", "type": "temporal"},
            "y": {"field": "s", "type": "quantitative", "scale": {"domain": [0, 100]},
                  "axis": {"title": "Mean intensity (inverted)", "orient": "right", "values": [0, 20, 40, 60, 80, 100]}}
          }
        },
        {
          "mark": {"type": "line", "color": "#1b3f9e", "strokeWidth": 1.2, "strokeDash": [4, 3], "invalid": "filter"},
          "encoding": {
            "x": {"field": "d", "type": "temporal"},
            "y": {"field": "l", "type": "quantitative", "scale": {"domain": [0, 100]},
                  "axis": {"title": "Mean intensity (inverted)", "orient": "right", "values": [0, 20, 40, 60, 80, 100]}}
          }
        }
      ]
    },
    {
      "transform": [{"filter": "datum.n"}],
      "layer": [
        {
          "mark": {"type": "text", "fontSize": 21, "fontWeight": "bold", "align": "left", "baseline": "alphabetic", "color": "#000"},
          "encoding": {
            "text": {"field": "p"},
            "x": {"datum": {"year": 2020, "month": 1, "date": 15}, "type": "temporal"},
            "y": {"datum": 109.4, "type": "quantitative", "scale": {"domain": [0, 100]}, "axis": null}
          }
        },
        {
          "mark": {"type": "text", "fontSize": 14, "fontWeight": "bold", "align": "center", "baseline": "alphabetic", "color": "#000"},
          "encoding": {
            "text": {"field": "n"},
            "x": {"datum": {"year": 2020, "month": 6, "date": 21}, "type": "temporal"},
            "y": {"datum": 102.3, "type": "quantitative", "scale": {"domain": [0, 100]}, "axis": null}
          }
        },
        {
          "mark": {"type": "text", "fontSize": 14.8, "align": "right", "baseline": "alphabetic", "color": "#000"},
          "encoding": {
            "text": {"field": "g"},
            "x": {"datum": {"year": 2020, "month": 9, "date": 16}, "type": "temporal"},
            "y": {"datum": 93, "type": "quantitative", "scale": {"domain": [0, 100]}, "axis": null}
          }
        },
        {
          "mark": {"type": "text", "fontSize": 12.3, "align": "right", "baseline": "alphabetic", "color": "#000"},
          "encoding": {
            "text": {"field": "r"},
            "x": {"datum": {"year": 2020, "month": 9, "date": 24}, "type": "temporal"},
            "y": {"datum": 2.3, "type": "quantitative", "scale": {"domain": [0, 100]}, "axis": null}
          }
        }
      ]
    }
  ],
  "resolve": {"scale": {"y": "independent"}}
},
"config": {
  "font": "Liberation Sans",
  "view": {"stroke": null},
  "header": {"labels": false, "title": null},
  "headerFacet": {"labels": false, "title": null},
  "axis": {
    "grid": false,
    "labelFont": "Liberation Sans", "titleFont": "Liberation Sans",
    "labelFontSize": 14.5, "titleFontSize": 15.5, "titleFontWeight": "normal",
    "labelColor": "#111111", "titleColor": "#111111",
    "domainColor": "#262626", "tickColor": "#262626", "domainWidth": 1, "tickWidth": 1,
    "tickSize": -4, "labelPadding": 9, "titlePadding": 0
  },
  "axisX": {"minExtent": 22, "maxExtent": 22},
  "axisLeft": {"minExtent": 51.5, "maxExtent": 51.5},
  "axisRight": {"minExtent": 26.3, "maxExtent": 26.3, "labelColor": "#2588d3", "titleColor": "#2588d3", "domainColor": "#2588d3", "tickColor": "#2588d3", "labelPadding": 8.5}
}
}
